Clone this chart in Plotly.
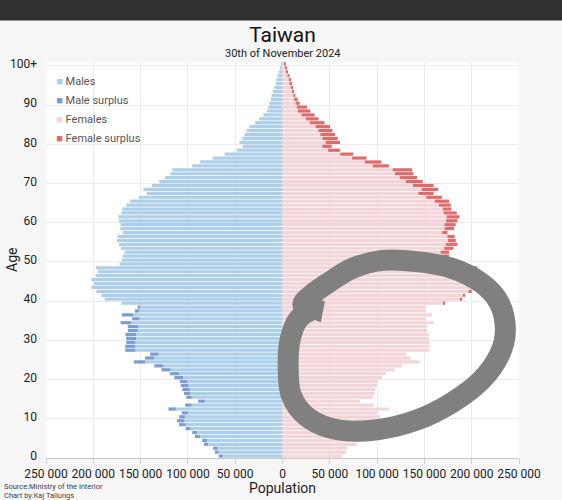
import plotly.graph_objects as go

# population by single year of age, in thousands
ages = list(range(101))
males = [
    67.4, 71.6, 73.4, 83.1, 84.9, 92.6, 95.4, 102.3, 109.3, 111.7,
    109.3, 106.5, 120.5, 103.0, 89.1, 101.7, 104.1, 105.9, 107.6, 108.3,
    114.3, 118.8, 127.9, 135.5, 157.2, 145.3, 140.0, 166.2, 166.2, 165.2,
    165.2, 165.9, 163.5, 163.5, 171.2, 158.9, 169.8, 156.0, 153.0, 170.4,
    188.0, 191.4, 196.7, 201.9, 199.5, 201.9, 197.4, 195.0, 197.4, 172.2,
    169.8, 168.8, 167.0, 170.9, 172.9, 175.0, 174.3, 168.8, 171.5, 171.2,
    172.9, 173.6, 170.4, 169.4, 165.2, 161.0, 152.0, 143.6, 147.1, 138.0,
    130.3, 124.0, 118.8, 116.4, 95.4, 87.0, 73.7, 61.1, 48.2, 42.0,
    45.7, 42.2, 40.1, 38.0, 34.9, 28.9, 24.7, 20.2, 16.4, 15.0,
    13.9, 12.2, 11.5, 10.1, 8.7, 7.3, 6.6, 5.2, 3.8, 2.7,
    1.7,
]
females = [
    63.2, 67.4, 68.5, 78.6, 79.7, 87.3, 90.1, 97.1, 102.3, 103.8,
    103.0, 100.0, 112.8, 96.0, 82.0, 96.0, 97.5, 98.1, 99.6, 100.6,
    105.1, 109.3, 118.3, 126.4, 145.0, 135.5, 131.0, 155.5, 155.5, 155.5,
    154.7, 154.7, 153.0, 152.7, 160.0, 151.3, 158.0, 151.3, 151.3, 172.0,
    190.0, 193.0, 200.0, 206.0, 205.0, 207.0, 204.0, 200.0, 205.8, 178.0,
    176.0, 176.1, 176.1, 180.7, 184.9, 183.1, 182.1, 174.4, 181.4, 183.1,
    184.9, 187.0, 184.2, 178.6, 177.9, 176.1, 168.5, 159.7, 164.6, 159.7,
    148.2, 142.2, 138.4, 137.0, 112.5, 104.5, 88.8, 74.8, 60.8, 52.1,
    60.8, 58.4, 55.6, 52.8, 50.3, 44.4, 38.1, 33.9, 29.4, 25.9,
    18.2, 16.1, 13.7, 11.9, 11.2, 10.2, 9.0, 7.5, 5.6, 4.5,
    3.2,
]

age_tickvals = [0, 10, 20, 30, 40, 50, 60, 70, 80, 90, 100]
age_ticktext = ["0", "10", "20", "30", "40", "50", "60", "70", "80", "90", "100+"]
pop_tickvals = [-250000, -200000, -150000, -100000, -50000, 0,
                50000, 100000, 150000, 200000, 250000]
pop_ticktext = ["250 000", "200 000", "150 000", "100 000", "50 000", "0",
                "50 000", "100 000", "150 000", "200 000", "250 000"]

colors = {
    "Males": "#aecfe9",
    "Male surplus": "#7c9dcf",
    "Females": "#f3d5d8",
    "Female surplus": "#de6c6d",
}

m = [v * 1000 for v in males]
f = [v * 1000 for v in females]
base = [min(a, b) for a, b in zip(m, f)]
m_surplus = [max(a - b, 0) for a, b in zip(m, f)]
f_surplus = [max(b - a, 0) for a, b in zip(m, f)]

fig = go.Figure()
series = [
    ("Males", [-v for v in base]),
    ("Male surplus", [-v for v in m_surplus]),
    ("Females", base),
    ("Female surplus", f_surplus),
]
for name, vals in series:
    fig.add_trace(go.Bar(
        y=ages, x=vals, orientation="h", name=name,
        marker=dict(color=colors[name], line_width=0),
        showlegend=False, hoverinfo="skip",
    ))
# legend entries: small coloured square right before the label
for name, _ in series:
    fig.add_trace(go.Scatter(
        x=[None], y=[None], mode="markers",
        name=f"<span style='color:{colors[name]}'>■</span> {name}",
        marker=dict(symbol="square", size=1, color="rgba(0,0,0,0)"),
    ))

# hand drawn circle over the chart (screenshot annotation), in data coords
loop = [(35.3, 36.5), (21.7, 38.5), (29.0, 40.8), (47.9, 44.1), (74.1, 47.9),
        (105.6, 49.9), (142.3, 49.6), (179.0, 47.9), (210.4, 44.1), (229.3, 39.0),
        (235.6, 32.1), (229.3, 25.8), (210.4, 19.4), (179.0, 13.6), (142.3, 9.2),
        (100.3, 6.7), (58.4, 6.7), (26.9, 9.8), (9.1, 15.6), (6.0, 23.3),
        (8.1, 29.7), (16.5, 34.8), (32.2, 37.3), (42.7, 36.8)]
pts = [(x * 1000, y) for x, y in loop]
# smooth it with catmull-rom -> cubic bezier
path = f"M {pts[0][0]:.0f},{pts[0][1]:.2f}"
n = len(pts)
for i in range(n - 1):
    p0 = pts[i - 1] if i > 0 else pts[i]
    p1, p2 = pts[i], pts[i + 1]
    p3 = pts[i + 2] if i + 2 < n else pts[i + 1]
    c1 = (p1[0] + (p2[0] - p0[0]) / 6, p1[1] + (p2[1] - p0[1]) / 6)
    c2 = (p2[0] - (p3[0] - p1[0]) / 6, p2[1] - (p3[1] - p1[1]) / 6)
    path += (f" C {c1[0]:.0f},{c1[1]:.2f} {c2[0]:.0f},{c2[1]:.2f}"
             f" {p2[0]:.0f},{p2[1]:.2f}")
fig.add_shape(type="path", path=path, xref="x", yref="y",
              line=dict(color="#808080", width=21), layer="above")

# dark app bar at the top of the screenshot
fig.add_shape(type="rect", xref="paper", yref="paper",
              x0=-0.2, x1=1.2, y0=1.105, y1=1.3,
              fillcolor="#313131", line_width=0, layer="above")

fig.add_annotation(text="30th of November 2024", xref="paper", yref="paper",
                   x=0.5, y=1.022, showarrow=False, yanchor="middle",
                   font=dict(size=11, color="#222"))
fig.add_annotation(text="Population", xref="paper", yref="paper",
                   x=0.5, y=-0.077, showarrow=False, yanchor="middle",
                   font=dict(size=14, color="#222"))
fig.add_annotation(text="Age", xref="paper", yref="paper", textangle=-90,
                   x=-0.072, y=0.5, showarrow=False, xanchor="center", yanchor="middle",
                   font=dict(size=14, color="#222"))
fig.add_annotation(text="Source:Ministry of the interior", xref="paper", yref="paper",
                   x=-0.093, y=-0.072, xanchor="left", yanchor="middle", showarrow=False,
                   font=dict(size=7.5, color="#444"))
fig.add_annotation(text="Chart by:Kaj Tallungs", xref="paper", yref="paper",
                   x=-0.093, y=-0.094, xanchor="left", yanchor="middle", showarrow=False,
                   font=dict(size=7.5, color="#444"))

fig.update_layout(
    width=562, height=500,
    margin=dict(l=46, r=43, t=62, b=42),
    paper_bgcolor="#f6f6f6",
    plot_bgcolor="#ffffff",
    font=dict(family="Roboto, Arial, sans-serif", color="#333"),
    title=dict(text="Taiwan", x=0.5, xref="paper", y=0.93, yanchor="middle",
               font=dict(size=21, color="#111")),
    barmode="relative",
    bargap=0.18,
    legend=dict(x=-0.063, y=0.99, xanchor="left", yanchor="top",
                bgcolor="rgba(0,0,0,0)", font=dict(size=11, color="#555"),
                tracegroupgap=0),
    xaxis=dict(
        range=[-250000, 250000], tickvals=pop_tickvals, ticktext=pop_ticktext,
        showgrid=True, gridcolor="#ebebeb", zeroline=False, automargin=False,
        showline=True, linecolor="#c8c8c8", ticks="outside", ticklen=5,
        tickcolor="#d0d0d0", tickfont=dict(size=12, color="#222"),
    ),
    yaxis=dict(
        range=[-0.5, 100.5], tickvals=age_tickvals, ticktext=age_ticktext,
        showgrid=False, zeroline=False, ticks="", ticklabelstandoff=8,
        automargin=False, tickfont=dict(size=12, color="#222"),
        minor=dict(tickvals=[9.5, 19.5, 29.5, 39.5, 49.5, 59.5, 69.5, 79.5, 89.5, 99.5],
                   showgrid=True, gridcolor="#ebebeb", ticks=""),
    ),
)

fig.write_html("out.html", config={"displayModeBar": False},
               post_script="document.body.style.margin='0';")
